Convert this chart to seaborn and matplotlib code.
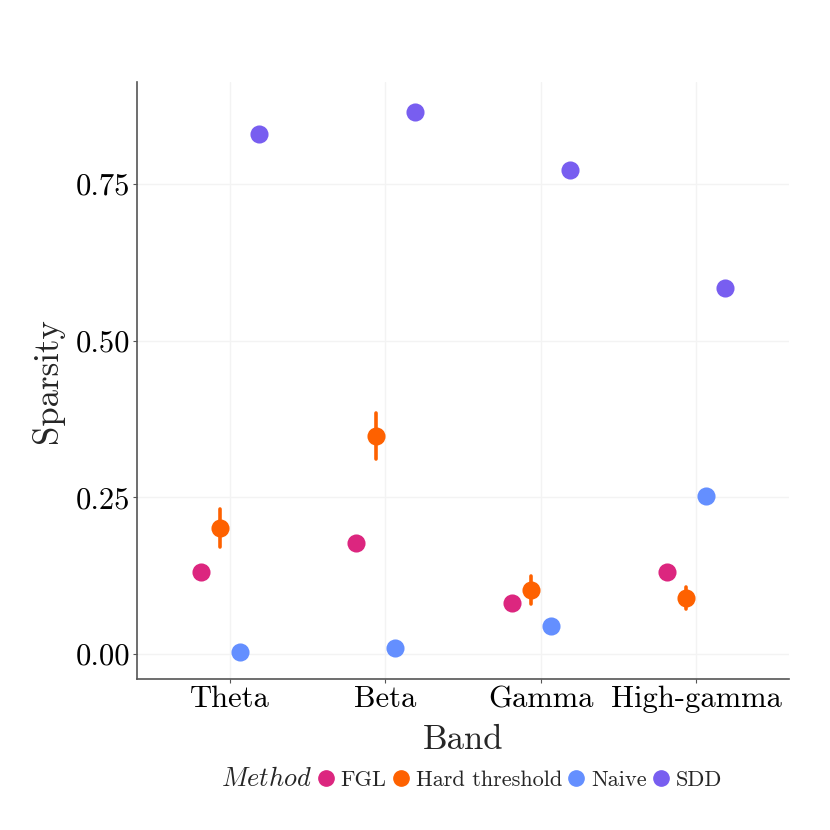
import seaborn as sns
import matplotlib.pyplot as plt
import pandas as pd
from matplotlib.lines import Line2D

# Datos
bandas = ["Theta", "Beta", "Gamma", "High-gamma"]
metodos = ["FGL", "Hard threshold", "Naive", "SDD"]
colores = ["#DC267F", "#FE6100", "#648FFF", "#785EF0"]

# sparsity media por método (en orden de bandas)
fgl = [0.131, 0.177, 0.081, 0.131]
hard = [0.201, 0.348, 0.102, 0.089]
naive = [0.003, 0.010, 0.045, 0.252]
sdd = [0.831, 0.866, 0.772, 0.584]

# semiancho de la barra de error
fgl_err = [0.0, 0.0, 0.0, 0.0]
hard_err = [0.030, 0.036, 0.022, 0.018]
naive_err = [0.0, 0.0, 0.0, 0.0]
sdd_err = [0.0, 0.0, 0.0, 0.010]

medias = [fgl, hard, naive, sdd]
errores = [fgl_err, hard_err, naive_err, sdd_err]

filas = []
for met, ms, es in zip(metodos, medias, errores):
    for b, m, e in zip(bandas, ms, es):
        for v in (m - e, m, m + e):
            filas.append({"Band": b, "Method": met, "Sparsity": v})
df = pd.DataFrame(filas)

sns.set_style("white")
plt.rcParams["font.family"] = ["cmr10", "DejaVu Serif"]
plt.rcParams["mathtext.fontset"] = "cm"
plt.rcParams["axes.formatter.use_mathtext"] = True

fig = plt.figure(figsize=(8.3, 8.3), dpi=100)
ax = fig.add_axes([0.165, 0.182, 0.786, 0.719])

sns.pointplot(data=df, x="Band", y="Sparsity", hue="Method",
              order=bandas, hue_order=metodos, palette=colores,
              estimator="mean", errorbar=lambda x: (x.min(), x.max()),
              dodge=0.375, linestyle="none", markersize=11,
              err_kws={"linewidth": 2.6}, ax=ax)

ax.set_xlim(-0.6, 3.6)
ax.set_ylim(-0.04, 0.913)
ax.set_yticks([0, 0.25, 0.5, 0.75])
ax.set_yticklabels(["0.00", "0.25", "0.50", "0.75"])
ax.grid(True, color="#F3F3F3", linewidth=1)
ax.set_axisbelow(True)
for s in ["top", "right"]:
    ax.spines[s].set_visible(False)
for s in ["left", "bottom"]:
    ax.spines[s].set_color("#555555")
    ax.spines[s].set_linewidth(1.2)
ax.tick_params(axis="both", length=3, color="#555555", labelsize=22,
               labelcolor="black", pad=2, left=True, bottom=True)
ax.set_xlabel("Band", fontsize=25, labelpad=8)
ax.set_ylabel("Sparsity", fontsize=25, labelpad=8)

handles, labels = ax.get_legend_handles_labels()
ax.get_legend().remove()
titulo = Line2D([], [], linestyle="none", marker=None)
handles = [titulo] + [Line2D([], [], linestyle="none", marker="o",
                             markersize=11, color=c) for c in colores]
labels = ["$Method$"] + metodos
leg = fig.legend(handles, labels, loc="center", bbox_to_anchor=(0.555, 0.062),
                 ncol=5, frameon=False, fontsize=16, handlelength=0.6,
                 handletextpad=0.35, columnspacing=0.35)
leg.get_texts()[0].set_fontsize(19)

fig.savefig("out.png", dpi=100)
